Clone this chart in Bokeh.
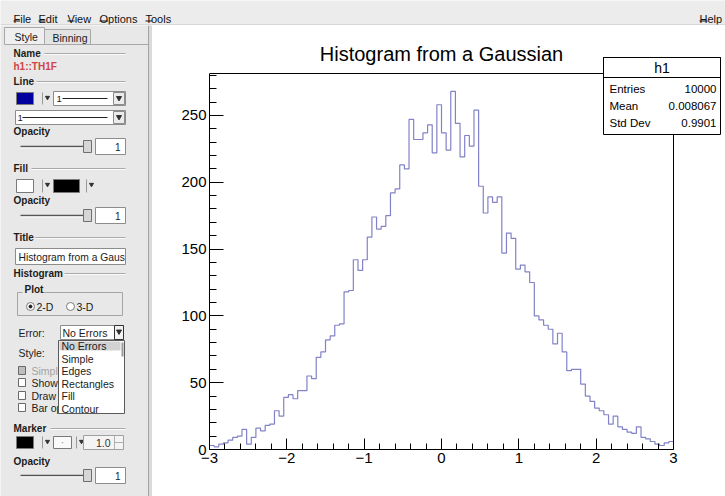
import numpy as np
from bokeh.plotting import figure
from bokeh.models import Range1d, FixedTicker, Label, BoxAnnotation
from bokeh.layouts import column, row
from bokeh.embed import file_html
from bokeh.resources import INLINE
from bokeh.core.properties import value

# ---------------- data ----------------
TITLE = "Histogram from a Gaussian"
X_MIN, X_MAX, N_BINS = -3.0, 3.0, 100
COUNTS = [3, 2, 4, 5, 7, 9, 10, 15, 4, 9,
          16, 14, 18, 19, 29, 25, 39, 41, 38, 44,
          44, 55, 53, 69, 73, 82, 85, 93, 94, 118,
          119, 142, 134, 142, 159, 174, 165, 167, 175, 192,
          195, 213, 210, 247, 232, 232, 237, 243, 222, 258,
          237, 224, 268, 244, 219, 235, 227, 254, 197, 177,
          189, 185, 189, 147, 162, 158, 135, 138, 133, 125,
          100, 97, 93, 90, 79, 87, 73, 59, 60, 60,
          49, 40, 36, 31, 29, 26, 19, 25, 17, 15,
          13, 12, 17, 9, 8, 6, 4, 3, 5, 6]
X_TICKS = [-3, -2, -1, 0, 1, 2, 3]
X_TICK_LABELS = ["\u22123", "\u22122", "\u22121", "0", "1", "2", "3"]
Y_TICKS = [0, 50, 100, 150, 200, 250]
Y_TICK_LABELS = ["0", "50", "100", "150", "200", "250"]
STATS_NAME = "h1"
STATS_KEYS = ["Entries", "Mean", "Std Dev"]
STATS_VALUES = ["10000", "0.008067", "0.9901"]
MENU_ITEMS = ["File", "Edit", "View", "Options", "Tools", "Help"]
ERROR_OPTIONS = ["No Errors", "Simple", "Edges", "Rectangles", "Fill", "Contour"]
CHECK_OPTIONS = ["Simple Drawing", "Show markers", "Draw bar chart", "Bar option"]

FONT = "Liberation Sans"
LINE_COLOR = "#8282c8"

# ---------------- layout (pixels) ----------------
W_TOTAL, H_TOTAL = 725, 496
H_MENU = 25
W_PANEL = 152
W_HIST = W_TOTAL - W_PANEL
H_BODY = H_TOTAL - H_MENU
AX_L, AX_R, AX_T, AX_B = 209, 673, 73, 449          # ROOT frame on the page
MB_L = AX_L - W_PANEL
MB_B = H_TOTAL - AX_B
frame_w = W_HIST - MB_L
frame_h = AX_B - H_MENU

# ---------------- histogram canvas ----------------
edges = np.linspace(X_MIN, X_MAX, N_BINS + 1)
ys = list(COUNTS) + [COUNTS[-1]]
y_top = 1.05 * max(COUNTS)
px_per_x = (AX_R - AX_L) / (X_MAX - X_MIN)
x_end = X_MIN + frame_w / px_per_x
y_end = y_top * frame_h / (AX_B - AX_T)

h = figure(width=W_HIST, height=H_BODY, x_range=Range1d(X_MIN, x_end),
           y_range=Range1d(0, y_end), output_backend="svg", toolbar_location=None,
           min_border_left=MB_L, min_border_right=0, min_border_top=0,
           min_border_bottom=MB_B)
h.frame_align = False
h.background_fill_color = "white"
h.border_fill_color = "white"
h.outline_line_color = None
h.xgrid.visible = False
h.ygrid.visible = False

x_minor = [round(X_MIN + 0.2 * i, 2) for i in range(31)]
y_minor = list(range(0, 290, 10))
h.xaxis.ticker = FixedTicker(ticks=X_TICKS, minor_ticks=x_minor)
h.yaxis.ticker = FixedTicker(ticks=Y_TICKS, minor_ticks=y_minor)
h.xaxis.major_label_overrides = {t: l for t, l in zip(X_TICKS, X_TICK_LABELS)}
h.yaxis.major_label_overrides = {t: l for t, l in zip(Y_TICKS, Y_TICK_LABELS)}
h.xaxis.bounds = (X_MIN, X_MAX)
h.yaxis.bounds = (0, y_top)
for ax in (h.xaxis[0], h.yaxis[0]):
    ax.axis_line_color = "black"
    ax.major_tick_line_color = "black"
    ax.minor_tick_line_color = "black"
    ax.major_tick_out = 0
    ax.minor_tick_out = 0
    ax.major_label_text_font = FONT
    ax.major_label_text_font_size = "15px"
    ax.major_label_text_color = "black"
    ax.major_label_standoff = 3
h.xaxis.major_tick_in = 11
h.xaxis.minor_tick_in = 6
h.yaxis.major_tick_in = 14
h.yaxis.minor_tick_in = 7

# top and right edges of the ROOT frame
h.segment(x0=[X_MIN, X_MAX], y0=[y_top, 0], x1=[X_MAX, X_MAX], y1=[y_top, y_top],
          line_color="black", line_width=1)
h.step(edges, ys, mode="after", line_color=LINE_COLOR, line_width=1.2)

h.add_layout(Label(x=441 - AX_L, y=AX_B - 53, x_units="screen", y_units="screen",
                   text=TITLE, text_align="center", text_baseline="alphabetic",
                   text_font=FONT, text_font_size="20px", text_color="black"))

# stats box (screen units, relative to frame bottom-left)
bx_l, bx_r = 603 - AX_L, 720 - AX_L
bx_t, bx_b, bx_h = AX_B - 57, AX_B - 134, AX_B - 77
h.add_layout(BoxAnnotation(left=bx_l, right=bx_r, top=bx_t, bottom=bx_b,
                           left_units="screen", right_units="screen",
                           top_units="screen", bottom_units="screen",
                           fill_color="white", fill_alpha=1.0,
                           line_color="black", line_width=1, line_alpha=1.0))
h.add_layout(BoxAnnotation(left=bx_l, right=bx_r, top=bx_t, bottom=bx_h,
                           left_units="screen", right_units="screen",
                           top_units="screen", bottom_units="screen",
                           fill_alpha=0.0, line_color="black", line_width=1, line_alpha=1.0))
h.add_layout(Label(x=(bx_l + bx_r) / 2, y=(bx_t + bx_h) / 2, x_units="screen", y_units="screen",
                   text=STATS_NAME, text_align="center", text_baseline="middle",
                   text_font=FONT, text_font_size="14px", text_color="black"))
for i, (k, v) in enumerate(zip(STATS_KEYS, STATS_VALUES)):
    yy = AX_B - (88 + 17 * i)
    h.add_layout(Label(x=bx_l + 6, y=yy, x_units="screen", y_units="screen", text=k,
                       text_align="left", text_baseline="middle", text_font=FONT,
                       text_font_size="11.5px", text_color="black"))
    h.add_layout(Label(x=bx_r - 4, y=yy, x_units="screen", y_units="screen", text=v,
                       text_align="right", text_baseline="middle", text_font=FONT,
                       text_font_size="11.5px", text_color="black"))


def put_text(fig, xs, ys_, labels, size="10.5px", style="normal", color="#1b1b1b",
             align="left", baseline="middle"):
    fig.text(x=xs, y=ys_, text=labels, text_font=value(FONT), text_font_size=value(size),
             text_font_style=style, text_color=color, text_align=align,
             text_baseline=baseline)


def boxes(fig, l, r, t, b, fill, line="#8c8c8c", width=1):
    fig.quad(left=l, right=r, top=t, bottom=b, fill_color=fill, line_color=line,
             line_width=width)


def arrows(fig, xs, ys_, size=5):
    fig.scatter(x=xs, y=ys_, marker="inverted_triangle", size=size, color="#303030")


# ---------------- menu bar ----------------
MENU_BG = "#ececec"
m = figure(width=W_TOTAL, height=H_MENU, x_range=Range1d(0, W_TOTAL),
           y_range=Range1d(H_MENU, 0), output_backend="svg", toolbar_location=None,
           min_border=0, x_axis_location=None, y_axis_location=None)
m.frame_align = False
m.grid.visible = False
m.outline_line_color = None
m.background_fill_color = MENU_BG
m.border_fill_color = MENU_BG
menu_x = [13, 38, 67, 99, 145, 699]
put_text(m, menu_x, [18.5] * 6, MENU_ITEMS, size="11px", baseline="alphabetic",
         color="#111111")
ul_w = [6.5, 7, 7, 8.5, 6.5, 8]
m.segment(x0=menu_x, y0=[20.5] * 6, x1=[a + w for a, w in zip(menu_x, ul_w)],
          y1=[20.5] * 6, line_color="#111111", line_width=1)
m.segment(x0=[0], y0=[24.5], x1=[W_TOTAL], y1=[24.5], line_color="#c4c4c4", line_width=1)

# ---------------- editor panel ----------------
BG = "#e8e8e8"
pn = figure(width=W_PANEL, height=H_BODY, x_range=Range1d(0, W_PANEL),
            y_range=Range1d(H_TOTAL, H_MENU), output_backend="svg",
            toolbar_location=None, min_border=0, x_axis_location=None,
            y_axis_location=None)
pn.frame_align = False
pn.grid.visible = False
pn.outline_line_color = None
pn.background_fill_color = BG
pn.border_fill_color = BG

# tabs
boxes(pn, [4, 44], [44, 90], [27, 29], [44, 44], ["#efefef", "#e3e3e3"], line="#a8a8a8")
pn.segment(x0=[44], y0=[44], x1=[148], y1=[44], line_color="#a8a8a8")
put_text(pn, [14, 52], [36, 37], ["Style", "Binning"], size="10.5px")
# right separator
pn.quad(left=[148], right=[W_PANEL], top=[H_MENU], bottom=[H_TOTAL], fill_color="#dadada",
        line_color=None)
pn.segment(x0=[148], y0=[H_MENU], x1=[148], y1=[H_TOTAL], line_color="#a4a4a4")

# section labels + grooves
sec_names = ["Name", "Line", "Opacity", "Fill", "Opacity", "Title", "Histogram", "Marker", "Opacity"]
sec_y = [53, 81, 131, 168, 200, 237, 273, 428, 461]
put_text(pn, [13] * len(sec_names), sec_y, sec_names, size="10px", style="bold")
g_x0 = [44, 36, 31, 35, 64, 50]
g_y = [53, 81, 168, 237, 273, 428]
pn.segment(x0=g_x0, y0=g_y, x1=[125] * 6, y1=g_y, line_color="#a9a9a9")
pn.segment(x0=g_x0, y0=[v + 1 for v in g_y], x1=[125] * 6, y1=[v + 1 for v in g_y],
           line_color="#fbfbfb")
put_text(pn, [13], [66], ["h1::TH1F"], size="10px", style="bold", color="#d04444")

# colour buttons
boxes(pn, [16, 16, 53, 16, 53], [33, 33, 79, 33, 71], [92, 179, 179, 436, 436],
      [104, 192, 192, 448, 448], ["#00009e", "#ffffff", "#000000", "#000000", "#fafafa"],
      line="#7a7a7a")
pn.segment(x0=[42, 42, 86, 42, 76], y0=[92, 179, 179, 436, 436],
           x1=[42, 42, 86, 42, 76], y1=[104, 192, 192, 448, 448], line_color="#9a9a9a")
arrows(pn, [47, 47, 91, 47, 81], [97, 184, 184, 441, 441], size=4)
put_text(pn, [62], [442], ["\u00b7"], size="10px", color="#888888", align="center")

# line style dropdowns
boxes(pn, [53, 15], [125, 125], [91, 110], [105, 124], "#ffffff", line="#8c8c8c")
boxes(pn, [113, 113], [124, 124], [92, 111], [104, 123], "#ebebeb", line="#8c8c8c")
arrows(pn, [118.5, 118.5], [97.5, 116.5], size=5)
put_text(pn, [56, 17], [98, 117], ["1", "1"], size="9.5px")
pn.segment(x0=[62, 22], y0=[98, 117], x1=[107, 107], y1=[98, 117], line_color="#222222")

# sliders
sl_y = [146, 215, 475]
pn.segment(x0=[20] * 3, y0=sl_y, x1=[86] * 3, y1=sl_y, line_color="#555555", line_width=1.5)
pn.segment(x0=[20] * 3, y0=[v + 1.5 for v in sl_y], x1=[86] * 3, y1=[v + 1.5 for v in sl_y],
           line_color="#fafafa", line_width=1)
boxes(pn, [83] * 3, [91] * 3, [v - 6 for v in sl_y], [v + 6 for v in sl_y], "#d6d6d6",
      line="#6f6f6f")
boxes(pn, [95] * 3, [125] * 3, [v - 8 for v in sl_y], [v + 8 for v in sl_y], "#ffffff",
      line="#8c8c8c")
put_text(pn, [120] * 3, sl_y, ["1"] * 3, size="10px", align="right")

# title entry
boxes(pn, [15], [125], [248], [264], "#ffffff", line="#8c8c8c")
put_text(pn, [18], [256.5], [TITLE[:21]], size="10.3px")

# plot group
pn.quad(left=[17], right=[122], top=[292], bottom=[315], fill_color=None, line_color="#a5a5a5")
boxes(pn, [22], [40], [284], [294], BG, line=None)
put_text(pn, [24], [289], ["Plot"], size="10px", style="bold")
pn.scatter(x=[30, 70], y=[306, 306], marker="circle", size=8, fill_color="#ffffff",
           line_color="#7a7a7a")
pn.scatter(x=[30], y=[306], marker="circle", size=3, color="#222222")
put_text(pn, [36, 76], [306, 306], ["2-D", "3-D"], size="10.5px")

# error / style
put_text(pn, [18, 18], [332, 352], ["Error:", "Style:"], size="10.5px")
boxes(pn, [60], [123], [325], [339], "#ffffff", line="#8c8c8c")
boxes(pn, [114], [123], [325], [339], "#f2f2f2", line="#333333")
arrows(pn, [118.5], [331], size=5)
put_text(pn, [62], [332], [ERROR_OPTIONS[0]], size="10.5px")

# check boxes
chk_y = [370, 382, 395, 407]
boxes(pn, [18] * 4, [25] * 4, [v - 4 for v in chk_y], [v + 4 for v in chk_y],
      ["#bdbdbd", "#ffffff", "#ffffff", "#ffffff"], line="#6a6a6a")
put_text(pn, [31] * 4, chk_y, CHECK_OPTIONS, size="10.5px",
         color=["#a3a3a3", "#1b1b1b", "#1b1b1b", "#1b1b1b"])

# popup list over the check boxes
boxes(pn, [58], [124], [340], [413], "#ffffff", line="#5a5a5a")
boxes(pn, [59], [120], [341], [350], "#d2d2d2", line=None)
pn.segment(x0=[122], y0=[342], x1=[122], y1=[356], line_color="#9a9a9a", line_width=2)
item_y = [345.5, 358, 370.5, 383, 395.5, 408]
put_text(pn, [61] * 6, item_y, ERROR_OPTIONS, size="10.5px")

# marker size spin box
boxes(pn, [83], [123], [435], [449], "#f4f4f4", line="#a0a0a0")
pn.segment(x0=[114, 114], y0=[435, 442], x1=[114, 123], y1=[449, 442], line_color="#b0b0b0")
put_text(pn, [110], [442], ["1.0"], size="10.5px", align="right", color="#333333")

layout = column(m, row(pn, h, spacing=0), spacing=0)
open("out.html", "w").write(file_html(layout, INLINE))
